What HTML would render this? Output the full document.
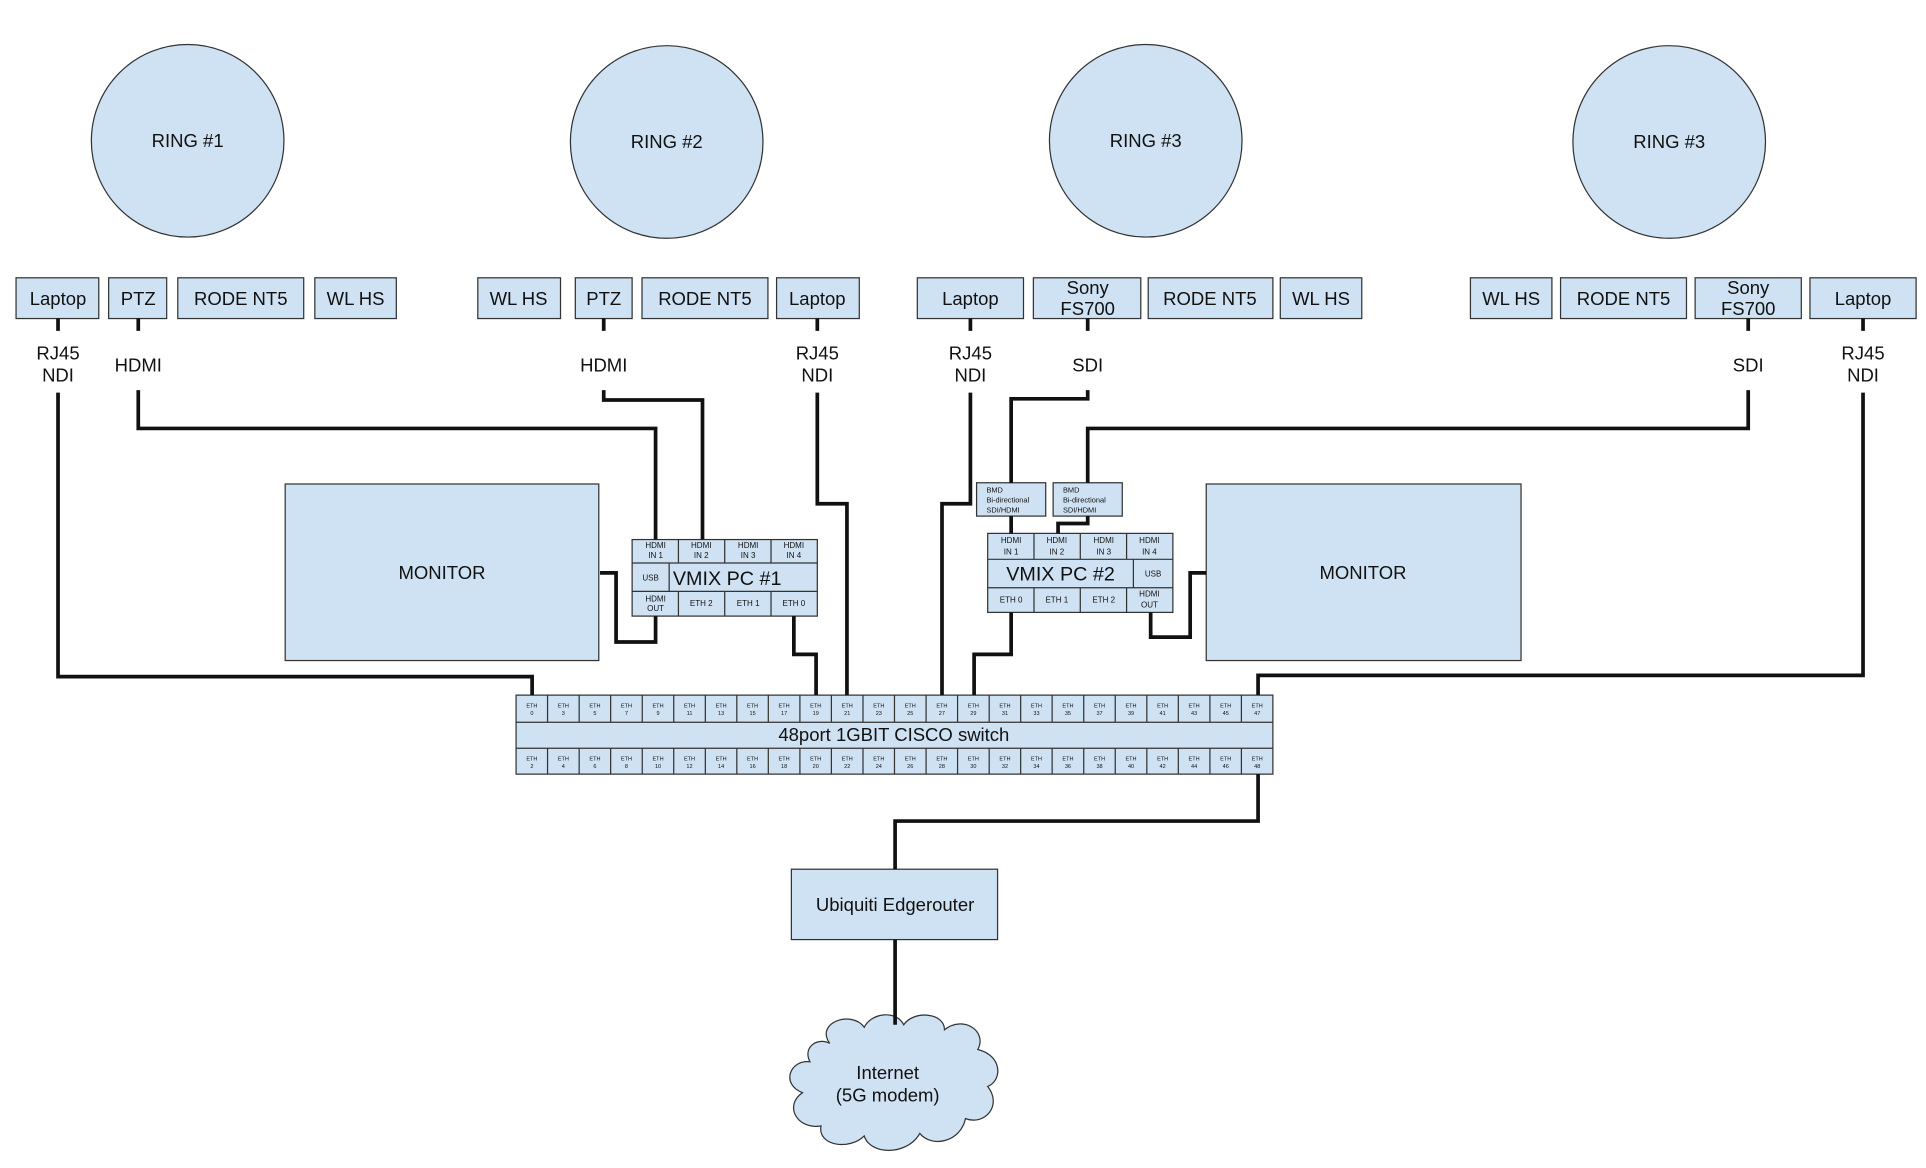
<!DOCTYPE html>
<html><head><meta charset="utf-8"><style>
html,body{margin:0;padding:0;background:#fff}
svg{display:block}
text{font-family:"Liberation Sans",Arial,sans-serif;fill:#111}
</style></head><body>
<svg width="1926" height="1168" viewBox="0 0 1560 946" preserveAspectRatio="none" xmlns="http://www.w3.org/2000/svg">
<g fill="#cfe2f3" stroke="#333" stroke-width="1">
<circle cx="152" cy="114" r="78"/><circle cx="540" cy="115" r="78"/><circle cx="928" cy="114" r="78"/><circle cx="1352" cy="115" r="78"/>
<rect x="13" y="225" width="67" height="33"/><rect x="88" y="225" width="47" height="33"/><rect x="144" y="225" width="102" height="33"/><rect x="255" y="225" width="66" height="33"/>
<rect x="387" y="225" width="67" height="33"/><rect x="466" y="225" width="46" height="33"/><rect x="520" y="225" width="102" height="33"/><rect x="629" y="225" width="67" height="33"/>
<rect x="743" y="225" width="86" height="33"/><rect x="837" y="225" width="87" height="33"/><rect x="930" y="225" width="101" height="33"/><rect x="1037" y="225" width="66" height="33"/>
<rect x="1191" y="225" width="66" height="33"/><rect x="1264" y="225" width="102" height="33"/><rect x="1373" y="225" width="86" height="33"/><rect x="1466" y="225" width="86" height="33"/>
<rect x="231" y="392" width="254" height="143"/><rect x="977" y="392" width="255" height="143"/>
<rect x="512" y="437" width="150" height="62"/>
<rect x="800" y="432" width="150" height="64"/>
<rect x="791" y="391" width="56" height="27"/><rect x="853" y="391" width="56" height="27"/>
<rect x="418" y="563" width="613" height="64"/>
<rect x="641" y="704" width="167" height="57"/>
<path d="M672 845 C660 828,690 818,700 832 C706 820,726 818,732 830 C740 818,765 820,765 834 C780 822,800 835,792 850 C812 855,812 875,800 880 C812 895,798 912,782 906 C778 925,755 930,745 918 C735 936,705 936,700 920 C688 932,662 928,665 912 C645 915,635 895,650 885 C632 878,640 858,656 860 C650 848,662 840,672 845 Z"/>
</g>
<g fill="none" stroke="#333" stroke-width="1">
<path d="M512 456H662M512 479H662M549.5 437V456M587 437V456M624.5 437V456M542 456V479M549.5 479V499M587 479V499M624.5 479V499"/>
<path d="M800 453H950M800 476H950M837.5 432V453M875 432V453M912.5 432V453M918 453V476M837.5 476V496M875 476V496M912.5 476V496"/>
<path d="M418 585H1031M418 606H1031"/>
<path d="M443.5 563V585M469.1 563V585M494.6 563V585M520.2 563V585M545.7 563V585M571.3 563V585M596.8 563V585M622.3 563V585M647.9 563V585M673.4 563V585M699 563V585M724.5 563V585M750.1 563V585M775.6 563V585M801.2 563V585M826.7 563V585M852.2 563V585M877.8 563V585M903.3 563V585M928.9 563V585M954.4 563V585M980 563V585M1005.5 563V585"/>
<path d="M443.5 606V627M469.1 606V627M494.6 606V627M520.2 606V627M545.7 606V627M571.3 606V627M596.8 606V627M622.3 606V627M647.9 606V627M673.4 606V627M699 606V627M724.5 606V627M750.1 606V627M775.6 606V627M801.2 606V627M826.7 606V627M852.2 606V627M877.8 606V627M903.3 606V627M928.9 606V627M954.4 606V627M980 606V627M1005.5 606V627"/>
</g>
<g fill="none" stroke="#111" stroke-width="3">
<path d="M47 258V268M47 318V548H431V563"/>
<path d="M112 258V268M112 316V347H531V437"/>
<path d="M489 258V268M489 316V324H569V437"/>
<path d="M662 258V268M662 318V408H686V563"/>
<path d="M786 258V268M786 318V408H763V563"/>
<path d="M881 258V268M881 316V323H819V391"/>
<path d="M1416 258V268M1416 316V347H881V391"/>
<path d="M1509 258V268M1509 318V547H1019V563"/>
<path d="M531 499V520H499V464H486"/>
<path d="M643 499V530H661V563"/>
<path d="M819 496V530H789V563"/>
<path d="M932 496V516H964V464H977"/>
<path d="M819 418V432M881 418V424H857V432"/>
<path d="M1019 627V665H725V704"/>
<path d="M725 761V830"/>
</g>
<g font-size="15" text-anchor="middle">
<text x="152" y="119">RING #1</text><text x="540" y="120">RING #2</text><text x="928" y="119">RING #3</text><text x="1352" y="120">RING #3</text>
<text x="47" y="247">Laptop</text><text x="112" y="247">PTZ</text><text x="195" y="247">RODE NT5</text><text x="288" y="247">WL HS</text>
<text x="420" y="247">WL HS</text><text x="489" y="247">PTZ</text><text x="571" y="247">RODE NT5</text><text x="662" y="247">Laptop</text>
<text x="786" y="247">Laptop</text><text x="881" y="238">Sony</text><text x="881" y="255">FS700</text><text x="980" y="247">RODE NT5</text><text x="1070" y="247">WL HS</text>
<text x="1224" y="247">WL HS</text><text x="1315" y="247">RODE NT5</text><text x="1416" y="238">Sony</text><text x="1416" y="255">FS700</text><text x="1509" y="247">Laptop</text>
<text x="47" y="291">RJ45</text><text x="47" y="309">NDI</text>
<text x="112" y="301">HDMI</text><text x="489" y="301">HDMI</text>
<text x="662" y="291">RJ45</text><text x="662" y="309">NDI</text>
<text x="786" y="291">RJ45</text><text x="786" y="309">NDI</text>
<text x="881" y="301">SDI</text><text x="1416" y="301">SDI</text>
<text x="1509" y="291">RJ45</text><text x="1509" y="309">NDI</text>
<text x="358" y="469">MONITOR</text><text x="1104" y="469">MONITOR</text>
<text x="724" y="600">48port 1GBIT CISCO switch</text>
<text x="725" y="738">Ubiquiti Edgerouter</text>
<text x="719" y="874">Internet</text><text x="719" y="892">(5G modem)</text>
<text x="545" y="474" font-size="16" text-anchor="start">VMIX PC #1</text>
<text x="859" y="470" font-size="16">VMIX PC #2</text>
</g>
<g font-size="6.5" text-anchor="middle">
<text x="531" y="444">HDMI</text><text x="531" y="452">IN 1</text>
<text x="568" y="444">HDMI</text><text x="568" y="452">IN 2</text>
<text x="606" y="444">HDMI</text><text x="606" y="452">IN 3</text>
<text x="643" y="444">HDMI</text><text x="643" y="452">IN 4</text>
<text x="527" y="470">USB</text>
<text x="531" y="487">HDMI</text><text x="531" y="495">OUT</text>
<text x="568" y="491">ETH 2</text><text x="606" y="491">ETH 1</text><text x="643" y="491">ETH 0</text>
<text x="819" y="440">HDMI</text><text x="819" y="449">IN 1</text>
<text x="856" y="440">HDMI</text><text x="856" y="449">IN 2</text>
<text x="894" y="440">HDMI</text><text x="894" y="449">IN 3</text>
<text x="931" y="440">HDMI</text><text x="931" y="449">IN 4</text>
<text x="934" y="467">USB</text>
<text x="819" y="488">ETH 0</text><text x="856" y="488">ETH 1</text><text x="894" y="488">ETH 2</text>
<text x="931" y="483">HDMI</text><text x="931" y="492">OUT</text>
</g>
<g font-size="6" text-anchor="start">
<text x="799" y="399">BMD</text><text x="799" y="407">Bi-directional</text><text x="799" y="415">SDI/HDMI</text>
<text x="861" y="399">BMD</text><text x="861" y="407">Bi-directional</text><text x="861" y="415">SDI/HDMI</text>
</g>
<g font-size="4.5" text-anchor="middle" fill="#333">
<text x="430.8" y="573">ETH</text><text x="430.8" y="579">0</text>
<text x="456.3" y="573">ETH</text><text x="456.3" y="579">3</text>
<text x="481.9" y="573">ETH</text><text x="481.9" y="579">5</text>
<text x="507.4" y="573">ETH</text><text x="507.4" y="579">7</text>
<text x="533" y="573">ETH</text><text x="533" y="579">9</text>
<text x="558.5" y="573">ETH</text><text x="558.5" y="579">11</text>
<text x="584.1" y="573">ETH</text><text x="584.1" y="579">13</text>
<text x="609.6" y="573">ETH</text><text x="609.6" y="579">15</text>
<text x="635.1" y="573">ETH</text><text x="635.1" y="579">17</text>
<text x="660.7" y="573">ETH</text><text x="660.7" y="579">19</text>
<text x="686.2" y="573">ETH</text><text x="686.2" y="579">21</text>
<text x="711.8" y="573">ETH</text><text x="711.8" y="579">23</text>
<text x="737.3" y="573">ETH</text><text x="737.3" y="579">25</text>
<text x="762.9" y="573">ETH</text><text x="762.9" y="579">27</text>
<text x="788.4" y="573">ETH</text><text x="788.4" y="579">29</text>
<text x="814" y="573">ETH</text><text x="814" y="579">31</text>
<text x="839.5" y="573">ETH</text><text x="839.5" y="579">33</text>
<text x="865" y="573">ETH</text><text x="865" y="579">35</text>
<text x="890.6" y="573">ETH</text><text x="890.6" y="579">37</text>
<text x="916.1" y="573">ETH</text><text x="916.1" y="579">39</text>
<text x="941.7" y="573">ETH</text><text x="941.7" y="579">41</text>
<text x="967.2" y="573">ETH</text><text x="967.2" y="579">43</text>
<text x="992.8" y="573">ETH</text><text x="992.8" y="579">45</text>
<text x="1018.3" y="573">ETH</text><text x="1018.3" y="579">47</text>
<text x="430.8" y="616">ETH</text><text x="430.8" y="622">2</text>
<text x="456.3" y="616">ETH</text><text x="456.3" y="622">4</text>
<text x="481.9" y="616">ETH</text><text x="481.9" y="622">6</text>
<text x="507.4" y="616">ETH</text><text x="507.4" y="622">8</text>
<text x="533" y="616">ETH</text><text x="533" y="622">10</text>
<text x="558.5" y="616">ETH</text><text x="558.5" y="622">12</text>
<text x="584.1" y="616">ETH</text><text x="584.1" y="622">14</text>
<text x="609.6" y="616">ETH</text><text x="609.6" y="622">16</text>
<text x="635.1" y="616">ETH</text><text x="635.1" y="622">18</text>
<text x="660.7" y="616">ETH</text><text x="660.7" y="622">20</text>
<text x="686.2" y="616">ETH</text><text x="686.2" y="622">22</text>
<text x="711.8" y="616">ETH</text><text x="711.8" y="622">24</text>
<text x="737.3" y="616">ETH</text><text x="737.3" y="622">26</text>
<text x="762.9" y="616">ETH</text><text x="762.9" y="622">28</text>
<text x="788.4" y="616">ETH</text><text x="788.4" y="622">30</text>
<text x="814" y="616">ETH</text><text x="814" y="622">32</text>
<text x="839.5" y="616">ETH</text><text x="839.5" y="622">34</text>
<text x="865" y="616">ETH</text><text x="865" y="622">36</text>
<text x="890.6" y="616">ETH</text><text x="890.6" y="622">38</text>
<text x="916.1" y="616">ETH</text><text x="916.1" y="622">40</text>
<text x="941.7" y="616">ETH</text><text x="941.7" y="622">42</text>
<text x="967.2" y="616">ETH</text><text x="967.2" y="622">44</text>
<text x="992.8" y="616">ETH</text><text x="992.8" y="622">46</text>
<text x="1018.3" y="616">ETH</text><text x="1018.3" y="622">48</text>
</g>
</svg>
</body></html>
